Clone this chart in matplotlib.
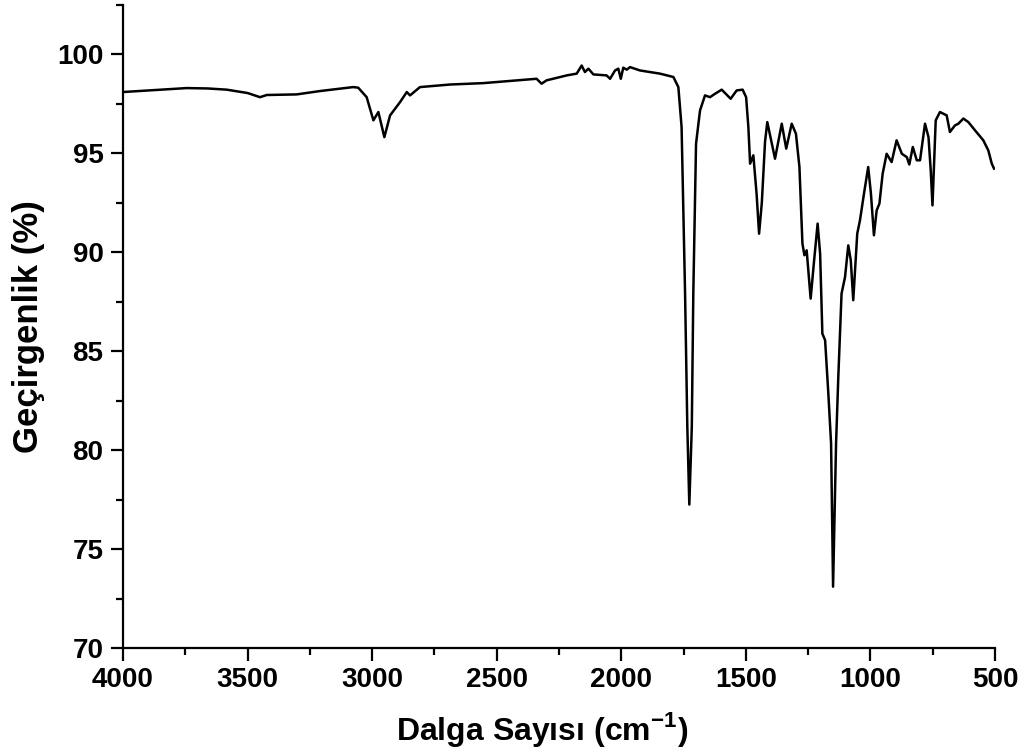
import numpy as np
import matplotlib
matplotlib.use("Agg")
import matplotlib.pyplot as plt
from matplotlib.ticker import MultipleLocator

plt.rcParams["font.family"] = ["Liberation Sans", "DejaVu Sans"]
plt.rcParams["font.weight"] = "bold"
plt.rcParams["mathtext.fontset"] = "custom"
plt.rcParams["mathtext.rm"] = "Liberation Sans:bold"
plt.rcParams["mathtext.bf"] = "Liberation Sans:bold"

# FTIR spectrum: wavenumber (cm-1) and transmittance (%)
wavenumber = [
    4000, 3870, 3744, 3660, 3584, 3500, 3450, 3423, 3303, 3209,
    3076, 3056, 3022, 2995, 2975, 2951, 2928, 2888, 2861, 2848,
    2808, 2687, 2554, 2420, 2340, 2320, 2300, 2219, 2179, 2159,
    2146, 2132, 2112, 2059, 2045, 2025, 2012, 2002, 1992, 1978,
    1965, 1925, 1845, 1791, 1771, 1758, 1744, 1735, 1727, 1717,
    1711, 1700, 1684, 1664, 1644, 1624, 1597, 1561, 1537, 1513,
    1499, 1490, 1483, 1470, 1457, 1447, 1436, 1423, 1414, 1396,
    1383, 1356, 1338, 1316, 1299, 1285, 1273, 1265, 1256, 1240,
    1226, 1212, 1202, 1193, 1182, 1169, 1158, 1150, 1138, 1129,
    1116, 1102, 1089, 1079, 1069, 1053, 1042, 1026, 1009, 998,
    986, 975, 964, 951, 935, 915, 895, 874, 854, 844,
    830, 814, 801, 781, 767, 758, 751, 745, 738, 721,
    694, 681, 661, 647, 627, 607, 580, 547, 527, 513,
    504,
]
transmittance = [
    98.10, 98.20, 98.30, 98.28, 98.22, 98.05, 97.84, 97.95, 97.98, 98.15,
    98.35, 98.32, 97.84, 96.67, 97.09, 95.82, 96.92, 97.59, 98.10, 97.93,
    98.35, 98.48, 98.55, 98.69, 98.77, 98.52, 98.69, 98.94, 99.03, 99.44,
    99.11, 99.28, 98.99, 98.94, 98.77, 99.19, 99.28, 98.77, 99.33, 99.23,
    99.36, 99.19, 99.03, 98.86, 98.35, 96.33, 87.91, 81.18, 77.25, 81.18,
    87.91, 95.49, 97.17, 97.93, 97.84, 98.01, 98.22, 97.76, 98.18, 98.22,
    97.84, 96.33, 94.48, 94.90, 92.96, 90.94, 92.50, 95.60, 96.58, 95.49,
    94.73, 96.50, 95.24, 96.50, 95.99, 94.31, 90.44, 89.85, 90.10, 87.66,
    89.60, 91.45, 89.93, 85.89, 85.56, 82.86, 80.34, 73.10, 80.34, 83.70,
    87.91, 88.75, 90.35, 89.60, 87.58, 90.94, 91.62, 92.96, 94.31, 92.96,
    90.86, 92.12, 92.46, 93.97, 94.98, 94.56, 95.66, 94.98, 94.81, 94.44,
    95.32, 94.65, 94.65, 96.50, 95.82, 94.14, 92.37, 94.31, 96.67, 97.09,
    96.92, 96.08, 96.41, 96.50, 96.76, 96.58, 96.16, 95.66, 95.15, 94.48,
    94.23,
]

x_ticks = [4000, 3500, 3000, 2500, 2000, 1500, 1000, 500]
y_ticks = [70, 75, 80, 85, 90, 95, 100]

fig = plt.figure(figsize=(10.31, 7.53), dpi=100)
ax = fig.add_axes([0.1193, 0.1394, 0.8458, 0.854])

ax.plot(wavenumber, transmittance, color="black", lw=1.8)

ax.set_xlim(4000, 500)
ax.set_ylim(70, 102.5)
ax.set_xticks(x_ticks)
ax.set_yticks(y_ticks)
ax.xaxis.set_minor_locator(MultipleLocator(250))
ax.yaxis.set_minor_locator(MultipleLocator(2.5))

for side in ("top", "right"):
    ax.spines[side].set_visible(False)
for side in ("left", "bottom"):
    ax.spines[side].set_linewidth(1.6)

ax.tick_params(which="major", direction="out", length=9, width=1.6,
               labelsize=20, pad=5)
ax.tick_params(which="minor", direction="out", length=5, width=1.6)
for lbl in ax.get_xticklabels() + ax.get_yticklabels():
    lbl.set_fontweight("bold")

ax.set_xlabel(r"Dalga Sayısı (cm$^{\mathbf{-1}}$)", fontsize=23,
              fontweight="bold")
ax.set_ylabel("Geçirgenlik (%)", fontsize=25, fontweight="bold")
ax.xaxis.set_label_coords(0.481, -0.097)
ax.yaxis.set_label_coords(-0.089, 0.5)

fig.savefig("out.png", dpi=100)
